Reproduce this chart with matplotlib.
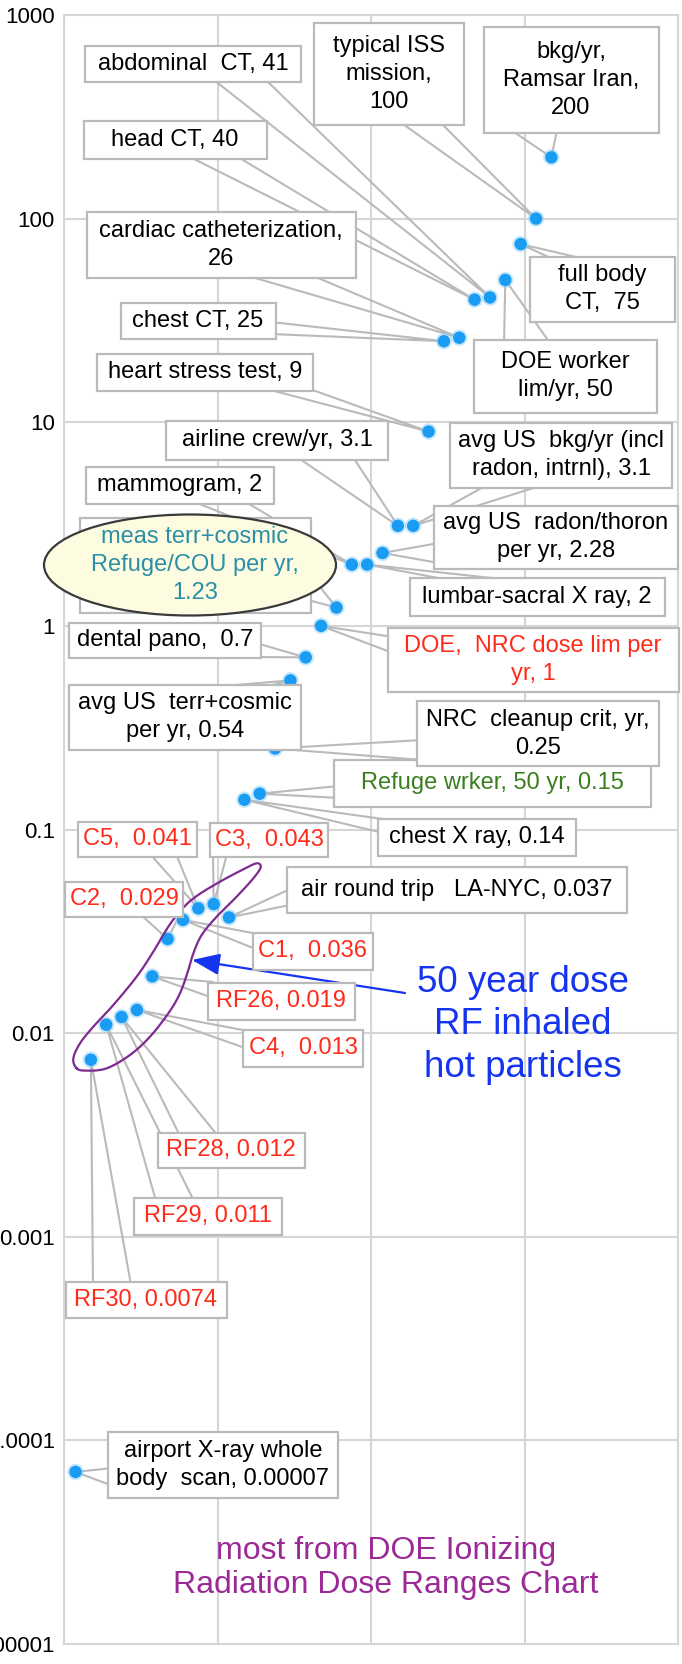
import numpy as np
import matplotlib
matplotlib.use("Agg")
import matplotlib.pyplot as plt
from matplotlib.patches import Ellipse, Rectangle

plt.rcParams['font.family'] = ['Liberation Sans', 'DejaVu Sans']

# data, sorted left to right as in the chart
values = [0.00007, 0.0074, 0.011, 0.012, 0.013, 0.019, 0.029, 0.036, 0.041, 0.043,
          0.037, 0.14, 0.15, 0.25, 0.54, 0.7, 1, 1.23, 2, 2,
          2.28, 3.1, 3.1, 9, 25, 26, 40, 41, 50, 75,
          100, 200]
labels = ["airport X-ray whole\nbody  scan, 0.00007", "RF30, 0.0074", "RF29, 0.011",
          "RF28, 0.012", "C4,  0.013", "RF26, 0.019", "C2,  0.029", "C1,  0.036",
          "C5,  0.041", "C3,  0.043", "air round trip   LA-NYC, 0.037", "chest X ray, 0.14",
          "Refuge wrker, 50 yr, 0.15", "NRC  cleanup crit, yr,\n0.25",
          "avg US  terr+cosmic\nper yr, 0.54", "dental pano,  0.7",
          "DOE,  NRC dose lim per\nyr, 1", "meas terr+cosmic\nRefuge/COU per yr,\n1.23",
          "mammogram, 2", "lumbar-sacral X ray, 2", "avg US  radon/thoron\nper yr, 2.28",
          "airline crew/yr, 3.1", "avg US  bkg/yr (incl\nradon, intrnl), 3.1",
          "heart stress test, 9", "chest CT, 25", "cardiac catheterization,\n26",
          "head CT, 40", "abdominal  CT, 41", "DOE worker\nlim/yr, 50", "full body\nCT,  75",
          "typical ISS\nmission,\n100", "bkg/yr,\nRamsar Iran,\n200"]
RED, TEAL, GREEN = '#ff2a1a', '#2a8fa8', '#3a7f1e'
label_colors = ['k', RED, RED, RED, RED, RED, RED, RED, RED, RED,
                'k', 'k', GREEN, 'k', 'k', 'k', RED, TEAL, 'k', 'k',
                'k', 'k', 'k', 'k', 'k', 'k', 'k', 'k', 'k', 'k',
                'k', 'k']
ytick_vals = [1e-5, 1e-4, 1e-3, 1e-2, 1e-1, 1, 10, 100, 1000]
ytick_labels = ['0.00001', '0.0001', '0.001', '0.01', '0.1', '1', '10', '100', '1000']

# layout (pixels from top-left of the 682x1664 image)
box_centers = [(223, 1465), (146, 1300), (208, 1216), (231, 1150), (303, 1048),
               (281, 1001), (124, 899), (313, 951), (137, 839), (269, 840),
               (457, 890), (477, 837), (492, 783), (538, 734), (185, 717),
               (165, 640), (533, 660), (195, 565), (180, 485), (537, 597),
               (556, 537), (277, 440), (561, 455), (205, 372), (198, 321),
               (221, 245), (175, 140), (193, 64), (565, 376), (602, 289),
               (389, 74), (571, 80)]
box_sizes = [(230, 66), (161, 36), (148, 37), (147, 35), (120, 37),
             (147, 37), (118, 35), (120, 37), (119, 35), (118, 34),
             (340, 46), (198, 37), (317, 47), (242, 65), (232, 65),
             (192, 35), (291, 64), (231, 95), (188, 37), (255, 38),
             (244, 63), (222, 39), (222, 65), (216, 37), (155, 36),
             (269, 66), (183, 38), (216, 36), (183, 73), (145, 65),
             (150, 102), (175, 105)]
# wedge base: x, y, half width, orientation of the base
anchors = [(113, 1477, 9, 'v'), (112, 1285, 19, 'h'), (175, 1201, 19, 'h'), (199, 1136, 19, 'h'),
           (248, 1040, 9, 'v'), (213, 990, 8, 'v'), (160, 914, 20, 'h'), (258, 942, 8, 'v'),
           (163, 854, 13, 'h'), (220, 854, 7, 'h'), (290, 897, 8, 'v'), (383, 826, 7, 'v'),
           (339, 792, 6, 'v'), (422, 750, 10, 'v'), (231, 688, 30, 'h'), (256, 650, 7, 'v'),
           (393, 645, 8, 'v'), (308, 586, 14, 'v'), (218, 501, 26, 'h'), (487, 581, 33, 'h'),
           (439, 553, 10, 'v'), (325, 457, 28, 'h'), (515, 485, 28, 'h'), (285, 388, 22, 'h'),
           (271, 328, 6, 'v'), (278, 275, 33, 'h'), (214, 157, 24, 'h'), (240, 80, 26, 'h'),
           (527, 343, 23, 'h'), (572, 260, 17, 'h'), (420, 122, 20, 'h'), (534, 130, 23, 'h')]
blob = [(110, 745), (100, 715), (120, 670), (160, 620), (220, 555), (290, 470), (340, 395),
        (385, 320), (425, 268), (470, 228), (540, 185), (610, 148), (650, 130), (662, 142),
        (640, 175), (590, 230), (530, 290), (485, 345), (460, 400), (445, 450), (420, 520),
        (385, 580), (330, 650), (270, 705), (200, 745), (140, 752)]

W, H = 682, 1664
GRAY = '#bababa'
LABEL_SIZE = 17


def fig_xy(x, y):
    return x / W, 1 - y / H


def smooth_closed(pts, n=10):
    p = np.asarray(pts, float)
    m = len(p)
    out = []
    for i in range(m):
        p0, p1, p2, p3 = p[i - 1], p[i], p[(i + 1) % m], p[(i + 2) % m]
        for t in np.linspace(0, 1, n, endpoint=False):
            out.append(0.5 * (2 * p1 + (p2 - p0) * t + (2 * p0 - 5 * p1 + 4 * p2 - p3) * t * t
                              + (3 * p1 - p0 - 3 * p2 + p3) * t ** 3))
    out.append(out[0])
    return np.array(out)


fig = plt.figure(figsize=(W / 100, H / 100), dpi=100)
ax = fig.add_axes([64 / W, 1 - 1644 / H, 614 / W, 1629 / H])
ax.set_yscale('log')
ax.set_ylim(1e-5, 1e3)
ax.set_xlim(0, 40)
ax.set_yticks(ytick_vals)
ax.set_yticklabels(ytick_labels)
ax.yaxis.set_minor_locator(matplotlib.ticker.NullLocator())
ax.set_xticks([0, 10, 20, 30, 40])
ax.set_xticklabels([])
ax.tick_params(length=0, labelsize=16, pad=6.5)
ax.grid(True, color='#d6d6d6', lw=1.5)
ax.set_axisbelow(True)
for s in ax.spines.values():
    s.set_color('#d6d6d6')
    s.set_linewidth(1.5)

xpos = np.arange(len(values)) + 0.75
ax.scatter(xpos, values, s=140, color='#8fd0fa', alpha=0.5, edgecolors='none', zorder=3)
ax.scatter(xpos, values, s=80, color='#1a9cf2', edgecolors='none', zorder=3.1)

# callout wedges
for i in range(len(values)):
    tip = ax.transData.transform((xpos[i], values[i]))
    tx, ty = tip[0] / W, tip[1] / H
    x0, y0, hw, o = anchors[i]
    if o == 'h':
        b1, b2 = fig_xy(x0 - hw, y0), fig_xy(x0 + hw, y0)
    else:
        b1, b2 = fig_xy(x0, y0 - hw), fig_xy(x0, y0 + hw)
    ax.plot([b1[0], tx, b2[0]], [b1[1], ty, b2[1]], color=GRAY, lw=1.5,
            transform=fig.transFigure, clip_on=False, zorder=2)

# label boxes
for i, txt in enumerate(labels):
    cx, cy = box_centers[i]
    bw, bh = box_sizes[i]
    ax.add_patch(Rectangle(fig_xy(cx - bw / 2, cy + bh / 2), bw / W, bh / H,
                           transform=fig.transFigure, fc='white', ec=GRAY, lw=1.6,
                           zorder=4.8, clip_on=False))
    z = 5
    if label_colors[i] == TEAL:
        ax.add_patch(Ellipse(fig_xy(190, 565), 292 / W, 101 / H, transform=fig.transFigure,
                             fc='#fdfbe0', ec='#3a3a3a', lw=1.6, zorder=5.5, clip_on=False))
        z = 6
    ax.text(*fig_xy(cx, cy), txt, transform=fig.transFigure, ha='center', va='center',
            ma='center', fontsize=LABEL_SIZE, color=label_colors[i], zorder=z, linespacing=1.34)

# purple outline round the hot particle points
bl = smooth_closed([(x / 3 + 40, y / 3 + 820) for x, y in blob])
ax.plot(bl[:, 0] / W, 1 - bl[:, 1] / H, color='#7e2a90', lw=1.6,
        transform=fig.transFigure, clip_on=False, zorder=4)

ax.annotate('', xy=fig_xy(192, 960), xytext=fig_xy(405, 993),
            xycoords=fig.transFigure, textcoords=fig.transFigure,
            arrowprops=dict(arrowstyle='-|>,head_length=0.85,head_width=0.33', color='#1434f0',
                            lw=1.6, mutation_scale=20, shrinkA=0, shrinkB=0), zorder=4)
fig.text(523 / W, 1 - 1025 / H, "50 year dose\nRF inhaled\nhot particles", ha='center',
         va='center', ma='center', fontsize=26.5, color='#1434f0', linespacing=1.27)
fig.text(386 / W, 1 - 1568 / H, "most from DOE Ionizing\nRadiation Dose Ranges Chart",
         ha='center', va='center', ma='center', fontsize=23, color='#9b2a96', linespacing=1.17)

fig.savefig('out.png', dpi=100)
